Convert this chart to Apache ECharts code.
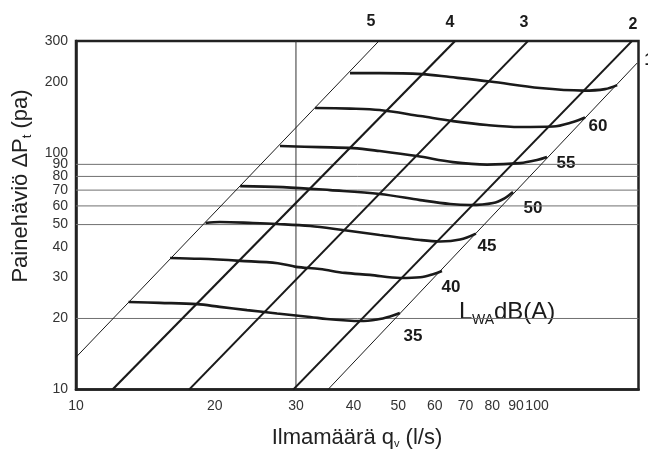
<!DOCTYPE html>
<html><head><meta charset="utf-8">
<script src="https://cdn.jsdelivr.net/npm/echarts@6/dist/echarts.min.js"></script>
<style>html,body{margin:0;padding:0;background:#fff}#chart{width:648px;height:450px}</style>
</head><body><div id="chart"></div>
<script>
// ---- axis values ----
const xTickLabels = [10, 20, 30, 40, 50, 60, 70, 80, 90, 100];
const yTickLabels = [10, 20, 30, 40, 50, 60, 70, 80, 90, 100, 200, 300];
const xRange = [10, 166];
const yRange = [10, 300];
const hGridValues = [20, 50, 60, 70, 80, 90];
const vGridValues = [30];

// ---- duct size lines (q l/s, dp Pa) ----
const ductNames = ['5', '4', '3', '2', '1'];
const duct5 = [[10, 13.7], [45.4, 300]];
const duct4 = [[12.0, 10], [66.4, 300]];
const duct3 = [[17.6, 10], [95.6, 300]];
const duct2 = [[29.6, 10], [160.7, 300]];
const duct1 = [[35.2, 10], [164.8, 241.8]];

// ---- sound level curves L_WA dB(A) ----
const soundLevels = [35, 40, 45, 50, 55, 60, 65];
const curve35 = [[13.0,23.5],[15.2,23.3],[18.3,23.0],[20.5,22.4],[23.5,21.7],[27.3,21.0],[32.2,20.3],[35.0,19.9],[38.7,19.6],[41.3,19.5],[45.0,19.8],[48.0,20.4],[50.4,21.1]];
const curve40 = [[16.0,36.1],[18.6,35.8],[22.7,35.1],[27.4,34.3],[30.0,33.1],[33.8,32.4],[38.3,31.2],[43.4,30.6],[50.5,29.7],[55.8,29.9],[59.5,30.8],[62.2,31.8]];
const curve45 = [[19.1,50.8],[20.5,51.3],[24.2,50.8],[27.3,50.3],[32.2,49.3],[37.9,47.4],[45.6,45.2],[55.8,43.0],[61.6,42.4],[68.1,43.2],[73.7,45.8]];
const curve50 = [[22.7,72.8],[28.1,72.1],[35.6,70.0],[45.6,67.4],[55.8,63.5],[64.8,61.1],[71.6,60.5],[80.3,61.7],[85.2,64.8],[88.7,68.7]];
const curve55 = [[27.7,107.6],[33.8,106.5],[39.9,105.5],[45.6,102.5],[54.9,97.6],[65.7,92.0],[77.9,89.8],[91.9,91.1],[100,93.9],[105.1,96.7]];
const curve60 = [[33.0,155.9],[39.3,155.1],[45.6,152.9],[55.8,144.2],[65.7,137.3],[77.9,132.1],[91.9,129.6],[108.3,130.2],[119.7,136.0],[127.1,142.1]];
const curve65 = [[39.3,219.3],[45.6,219.3],[56.3,217.2],[64.8,211.0],[79.1,201.9],[101.5,189.5],[125.9,184.9],[140.4,187.6],[149.2,195.1]];

// ---- texts ----
const xTitle = 'Ilmamäärä q{sub|v} (l/s)';
const yTitle = 'Painehäviö ΔP{sub|t} (pa)';
const unitMain = ['L', 'dB(A)'];
const unitSub = 'WA';

// ---- layout (pixels) ----
const ductLabelPos = [[371, 22], [450, 23], [524, 23], [633, 24.5], [649, 61]];
const levelLabelPos = [[413, 336], [451, 287], [487, 246], [533, 208], [566, 163], [598, 126]];
const ductWidths = [1, 2.2, 1.8, 1.8, 1];

const INK = '#1a1a1a';
const FONT = '"Liberation Sans", Arial, sans-serif';

const ducts = [duct5, duct4, duct3, duct2, duct1];
const curves = [curve35, curve40, curve45, curve50, curve55, curve60, curve65];

const series = [];
hGridValues.forEach(v => series.push({
  type: 'line', data: [[xRange[0], v], [xRange[1], v]], symbol: 'none', silent: true, z: 1,
  lineStyle: { color: '#707070', width: 1 }
}));
vGridValues.forEach(v => series.push({
  type: 'line', data: [[v, yRange[0]], [v, yRange[1]]], symbol: 'none', silent: true, z: 1,
  lineStyle: { color: '#333', width: 1 }
}));
ducts.forEach((d, i) => series.push({
  type: 'line', name: 'duct ' + ductNames[i], data: d, symbol: 'none', silent: true, z: 2,
  lineStyle: { color: INK, width: ductWidths[i] }
}));
curves.forEach((c, i) => series.push({
  type: 'line', name: soundLevels[i] + ' dB(A)', data: c, symbol: 'none', silent: true, z: 3,
  smooth: 0.35, lineStyle: { color: INK, width: 2.6 }
}));

const graphic = [];
ductNames.forEach((n, i) => graphic.push({
  type: 'text', x: ductLabelPos[i][0], y: ductLabelPos[i][1], silent: true,
  style: { text: n, font: 'bold 16px ' + FONT, fill: INK, textAlign: 'center', textVerticalAlign: 'middle', verticalAlign: 'middle' }
}));
levelLabelPos.forEach((p, i) => graphic.push({
  type: 'text', x: p[0], y: p[1], silent: true,
  style: { text: String(soundLevels[i]), font: 'bold 17px ' + FONT, fill: INK, textAlign: 'center', textVerticalAlign: 'middle', verticalAlign: 'middle' }
}));
graphic.push({ type: 'text', x: 459, y: 312.5, silent: true,
  style: { text: unitMain[0], font: '24px ' + FONT, fill: INK, textAlign: 'left', textVerticalAlign: 'middle', verticalAlign: 'middle' } });
graphic.push({ type: 'text', x: 472, y: 320.5, silent: true,
  style: { text: unitSub, font: '14px ' + FONT, fill: INK, textAlign: 'left', textVerticalAlign: 'middle', verticalAlign: 'middle' } });
graphic.push({ type: 'text', x: 494, y: 312.5, silent: true,
  style: { text: unitMain[1], font: '24px ' + FONT, fill: INK, textAlign: 'left', textVerticalAlign: 'middle', verticalAlign: 'middle' } });
graphic.push({ type: 'text', x: 357, y: 438, silent: true,
  style: { text: xTitle, font: '22px ' + FONT, fill: '#222', textAlign: 'center', textVerticalAlign: 'middle', verticalAlign: 'middle',
    rich: { sub: { font: '11px ' + FONT, fill: '#222', padding: [12, 0, 0, 0] } } } });
graphic.push({ type: 'text', x: 21, y: 186, rotation: Math.PI / 2, silent: true,
  style: { text: yTitle, font: '22px ' + FONT, fill: '#222', textAlign: 'center', textVerticalAlign: 'middle', verticalAlign: 'middle',
    rich: { sub: { font: '13px ' + FONT, fill: '#222', padding: [12, 0, 0, 0] } } } });

const axisLabelStyle = { color: '#333', fontSize: 14, fontFamily: FONT };
const option = {
  animation: false,
  backgroundColor: '#fff',
  grid: { left: 76, right: 9.5, top: 41, bottom: 60.5, show: true, borderColor: '#222', borderWidth: 2.5, outerBoundsMode: 'none', containLabel: false },
  xAxis: {
    type: 'log', logBase: 10, min: xRange[0], max: xRange[1],
    axisLine: { show: true, lineStyle: { color: '#222', width: 2.5 } },
    axisTick: { show: false }, minorTick: { show: false }, splitLine: { show: false }, minorSplitLine: { show: false },
    axisLabel: Object.assign({ customValues: xTickLabels, margin: 10, showMinLabel: true, showMaxLabel: true }, axisLabelStyle)
  },
  yAxis: {
    type: 'log', logBase: 10, min: yRange[0], max: yRange[1],
    axisLine: { show: true, lineStyle: { color: '#222', width: 2.5 } },
    axisTick: { show: false }, minorTick: { show: false }, splitLine: { show: false }, minorSplitLine: { show: false },
    axisLabel: Object.assign({ customValues: yTickLabels, margin: 8, showMinLabel: true, showMaxLabel: true }, axisLabelStyle)
  },
  series,
  graphic
};
echarts.init(document.getElementById('chart'), null, { renderer: 'canvas' }).setOption(option);
</script>
</body></html>
